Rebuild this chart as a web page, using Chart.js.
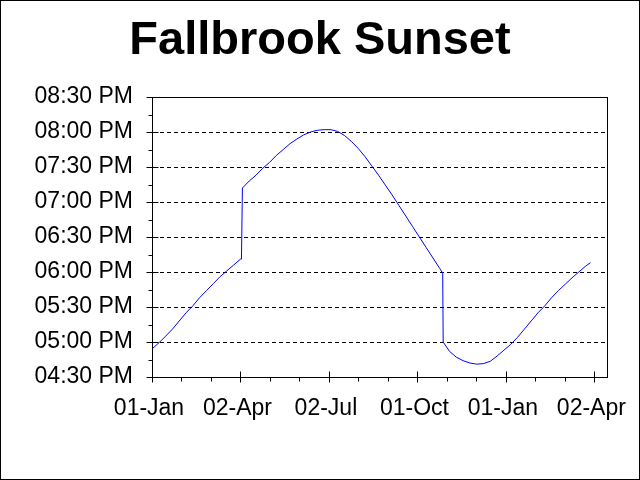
<!DOCTYPE html>
<html>
<head>
<meta charset="UTF-8">
<title>Fallbrook Sunset</title>
<style>
	body { margin: 0; background: #fff; }
</style>
</head>
<body>
	<canvas id="sunsetChart" width="640" height="480"></canvas>
</body>
<script src="https://cdn.jsdelivr.net/npm/chart.js@4.4.0/dist/chart.umd.min.js"></script>
<script type="text/javascript">
// days counted from 01-Jan, sunset in minutes after midnight
const sunsetDays = [0, 8, 14, 21, 28, 35, 42, 49, 56, 63, 70, 77, 84, 91, 92,
	93, 100, 107, 114, 121, 128, 135, 142, 149, 156, 163, 170, 177, 184, 191, 198, 205, 212, 219, 226,
	233, 240, 247, 254, 261, 268, 275, 282, 289, 296, 299,
	299.5, 306, 313, 320, 327, 334, 341, 348, 355, 362, 369, 376, 383, 390, 397, 404, 411, 418, 425,
	432, 439, 446, 451];
const sunsetMinutes = [1014, 1020, 1025, 1031, 1038, 1045, 1051, 1058, 1064, 1070, 1076, 1081, 1086, 1091, 1091,
	1152, 1158, 1163, 1169, 1174, 1180, 1185, 1190, 1194, 1197.5, 1200, 1201.5, 1202, 1202, 1200.5, 1197, 1192, 1186, 1179, 1171,
	1163, 1154.5, 1146, 1137, 1128, 1119, 1110, 1101, 1092, 1083, 1079,
	1020, 1012, 1007, 1004, 1002, 1001, 1001.5, 1003.5, 1008, 1013, 1018, 1024, 1031, 1038, 1045, 1051, 1058, 1064, 1069.5,
	1075, 1080, 1085, 1088];

// x axis tick labels and where they sit (days)
const xTickDays = [0, 91, 182, 273, 364, 455];
const xTickLabels = ['01-Jan', '02-Apr', '02-Jul', '01-Oct', '01-Jan', '02-Apr'];
// y axis: 04:30 PM .. 08:30 PM every 30 min
const yTickMinutes = [990, 1020, 1050, 1080, 1110, 1140, 1170, 1200, 1230];

function timeLabel(m) {
	let h = Math.floor(m / 60), mm = m % 60;
	let ap = h >= 12 ? 'PM' : 'AM';
	h = h % 12; if (h == 0) h = 12;
	return String(h).padStart(2, '0') + ':' + String(mm).padStart(2, '0') + ' ' + ap;
}

// frame around plot + canvas, and the tick marks (majors cross the axis)
const framePlugin = {
	id: 'frame',
	afterDraw(chart) {
		const ctx = chart.ctx, ca = chart.chartArea;
		const xs = chart.scales.x, ys = chart.scales.y;
		ctx.save();
		ctx.strokeStyle = '#000';
		ctx.lineWidth = 1;
		ctx.setLineDash([]);
		ctx.strokeRect(Math.round(ca.left) + 0.5, Math.round(ca.top) + 0.5,
			Math.round(ca.right - ca.left), Math.round(ca.bottom - ca.top));
		ctx.strokeRect(0.5, 0.5, chart.width - 1, chart.height - 1);
		ctx.beginPath();
		let b = Math.round(ca.bottom) + 0.5;
		xTickDays.forEach(function(d) {
			let px = Math.round(xs.getPixelForValue(d)) + 0.5;
			ctx.moveTo(px, b - 6); ctx.lineTo(px, b + 5);
			[d + 91 / 3, d + 182 / 3].forEach(function(md) {
				if (md < xs.max) {
					let mx = Math.round(xs.getPixelForValue(md)) + 0.5;
					ctx.moveTo(mx, b); ctx.lineTo(mx, b + 4);
				}
			});
		});
		let l = Math.round(ca.left) + 0.5;
		for (let m = 990; m <= 1230; m += 15) {
			let py = Math.round(ys.getPixelForValue(m)) + 0.5;
			if (m % 30 == 0) { ctx.moveTo(l - 6, py); ctx.lineTo(l + 6, py); }
			else { ctx.moveTo(l - 4, py); ctx.lineTo(l, py); }
		}
		ctx.stroke();
		ctx.restore();
	}
};

const points = sunsetDays.map(function(d, i) { return {x: d, y: sunsetMinutes[i]}; });

const chart = new Chart(document.getElementById('sunsetChart'), {
	type: 'line',
	data: {
		datasets: [{
			data: points,
			borderColor: 'rgb(0, 0, 255)',
			borderWidth: 1,
			pointRadius: 0,
			tension: 0,
			fill: false
		}]
	},
	options: {
		responsive: false,
		animation: false,
		layout: { padding: 0 },
		plugins: {
			legend: { display: false },
			tooltip: { enabled: false },
			title: {
				display: true,
				text: 'Fallbrook Sunset',
				color: '#000',
				font: { family: 'Liberation Sans', size: 47, weight: 'bold', lineHeight: 1.2 },
				padding: { top: 13, bottom: 27.6 }
			}
		},
		scales: {
			x: {
				type: 'linear',
				min: 0,
				max: 468,
				afterBuildTicks: function(scale) {
					scale.ticks = xTickDays.map(function(v) { return {value: v}; });
				},
				afterFit: function(scale) {
					scale.height = 103;
					scale.paddingLeft = 0;
					scale.paddingRight = 33;
				},
				grid: { display: false, drawTicks: false },
				border: { display: true, color: '#000', width: 1 },
				ticks: {
					color: '#000',
					padding: 18,
					labelOffset: -3,
					maxRotation: 0,
					autoSkip: false,
					font: { family: 'Liberation Sans', size: 23 },
					callback: function(v) {
						let i = xTickDays.indexOf(v);
						return i >= 0 ? xTickLabels[i] : '';
					}
				}
			},
			y: {
				min: 990,
				max: 1230,
				afterBuildTicks: function(scale) {
					scale.ticks = yTickMinutes.map(function(v) { return {value: v}; });
				},
				afterFit: function(scale) { scale.width = 152; },
				grid: {
					color: '#000',
					lineWidth: 1,
					drawTicks: false
				},
				border: { display: true, color: '#000', width: 1, dash: [4, 3] },
				ticks: {
					color: '#000',
					padding: 19,
					autoSkip: false,
					font: { family: 'Liberation Sans', size: 23 },
					callback: function(v) { return timeLabel(v); }
				}
			}
		}
	},
	plugins: [framePlugin]
});
</script>
</html>
